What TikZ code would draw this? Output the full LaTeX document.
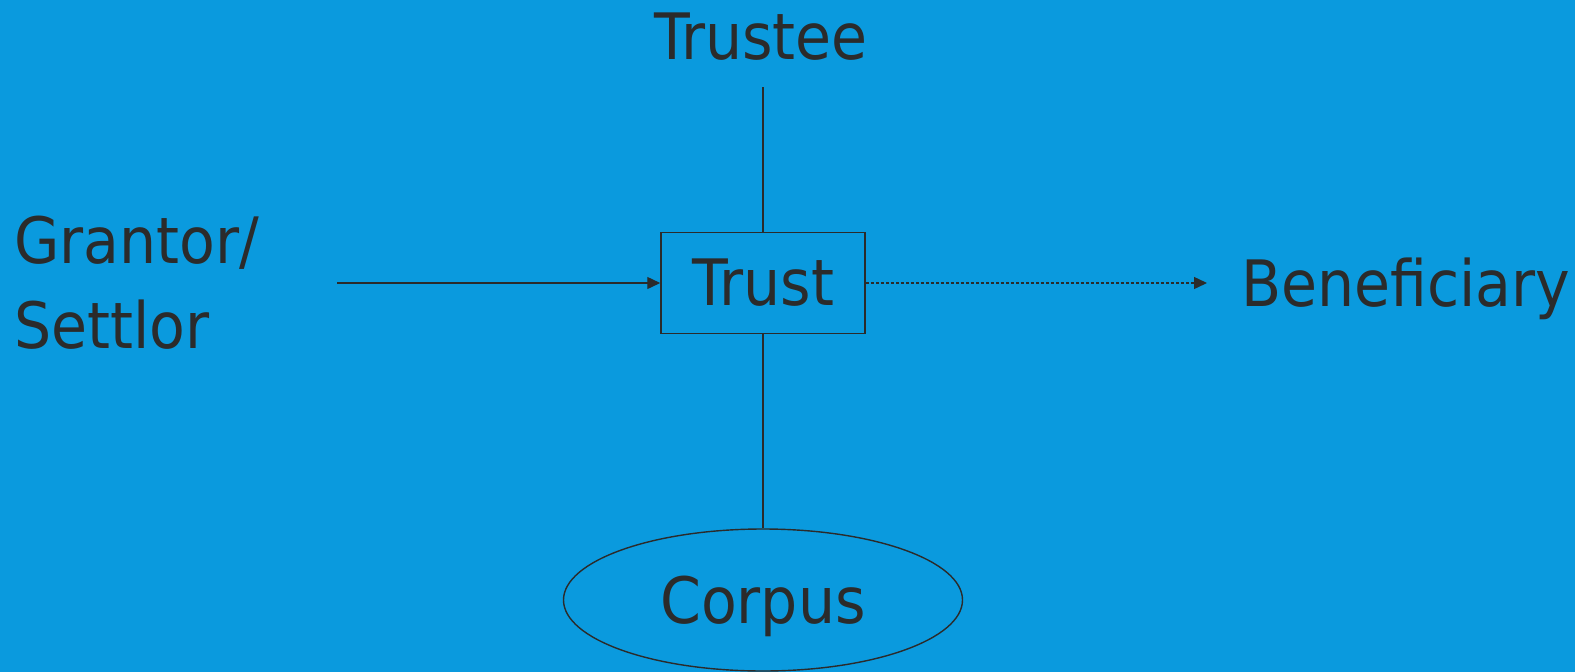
\documentclass[tikz,border=0pt]{standalone}
\usepackage{fontspec}
\setmainfont{DejaVu Sans}[FakeStretch=0.915]
\usetikzlibrary{arrows.meta,shapes.geometric}
\definecolor{bgblue}{HTML}{0A9ADE}
\definecolor{ink}{HTML}{2B2B2B}
\begin{document}
\begin{tikzpicture}[x=1pt,y=-1pt,
  label/.style={text=ink,font=\fontsize{64}{85}\selectfont,inner sep=0pt},
  link/.style={draw=ink,line width=1.4pt},
  arrowlink/.style={link,-{Triangle[length=13pt,width=12pt]}},
  dashlink/.style={arrowlink,dash pattern=on 3.5pt off 1.5pt}]
  % background
  \fill[bgblue] (0,0) rectangle (1575,672);
  \useasboundingbox (0,0) rectangle (1575,672);

  % central trust box
  \node[label,draw=ink,line width=1.5pt,minimum width=204pt,minimum height=101pt]
    (trust) at (763,283) {Trust};
  % parties
  \node[label,anchor=base,inner ysep=28pt,text depth=0pt] (trustee) at (761,59) {Trustee};
  \node[label,anchor=base west,align=left] (grantor) at (14,348) {Grantor/\\Settlor};
  \node[label,anchor=base west,inner xsep=34pt] (beneficiary) at (1207,306) {Beneficiary};
  \node[label,draw=ink,line width=1.4pt,ellipse,minimum width=399pt,minimum height=142pt,
    text depth=0pt] (corpus) at (763,600) {Corpus};
  \coordinate (grantorlink) at (337,283);

  % connectors
  \draw[link] (trustee.south -| trust.north) -- (trust.north);
  \draw[link] (trust.south) -- (corpus.north);
  \draw[arrowlink] (grantorlink) -- (trust.west);
  \draw[dashlink] (trust.east) -- (trust.east -| beneficiary.west);
\end{tikzpicture}
\end{document}
